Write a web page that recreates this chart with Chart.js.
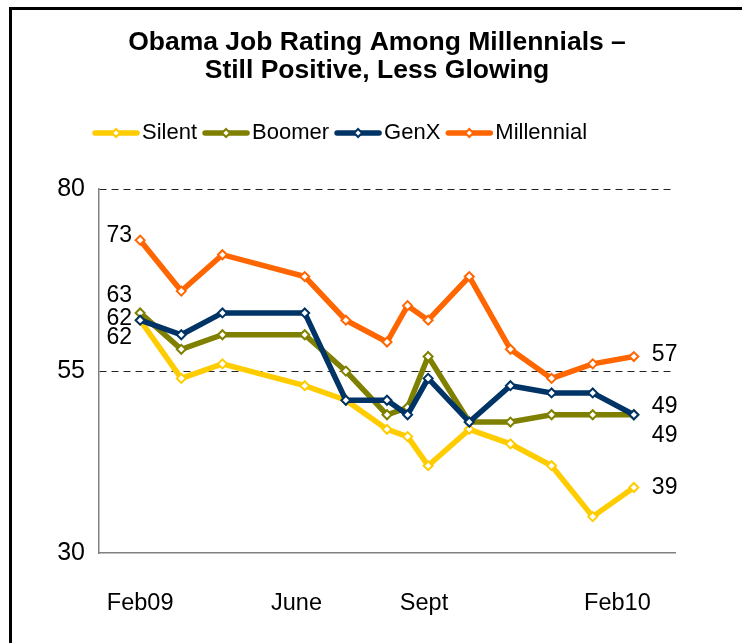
<!DOCTYPE html>
<html>
<head>
<meta charset="utf-8">
<script src="https://cdn.jsdelivr.net/npm/chart.js@4"></script>
<style>
  html, body { margin: 0; padding: 0; background: #fff; }
  #wrap { width: 742px; height: 643px; position: relative; }
</style>
</head>
<body>
<div id="wrap"><canvas id="chart" width="742" height="643"></canvas></div>
<script>
// months since Feb 2009
const months = [0, 1, 2, 4, 5, 6, 6.5, 7, 8, 9, 10, 11, 12];
const silent = [62, 54, 56, 53, 51, 47, 46, 42, 47, 45, 42, 35, 39];
const boomer = [63, 58, 60, 60, 55, 49, 50, 57, 48, 48, 49, 49, 49];
const genx = [62, 60, 63, 63, 51, 51, 49, 54, 48, 53, 52, 52, 49];
const millennial = [73, 66, 71, 68, 62, 59, 64, 62, 68, 58, 54, 56, 57];

const tickMonths = [0, 3.8, 6.9, 11.6];
const tickNames = ['Feb09', 'June', 'Sept', 'Feb10'];
const yTicks = [30, 55, 80];

const seriesNames = ['Silent', 'Boomer', 'GenX', 'Millennial'];
const seriesColors = ['#FFCC00', '#808000', '#003366', '#FF6600'];

const FONT = "'Liberation Sans', Arial, sans-serif";

function toPoints(vals) {
  return vals.map((v, i) => ({ x: months[i], y: v }));
}

// label offsets for the first / last value of each series
const leftDy = [17, -17, -2, -5];
const rightDy = [0, 21, -8, -2];

const framePlugin = {
  id: 'frame',
  beforeDraw(chart) {
    const ctx = chart.ctx;
    ctx.save();
    ctx.fillStyle = '#fff';
    ctx.fillRect(0, 0, chart.width, chart.height);
    ctx.fillStyle = '#000';
    ctx.fillRect(9, 7, 3, chart.height - 7);
    ctx.fillRect(9, 7, chart.width - 9, 3);
    ctx.restore();
  }
};

const legendPlugin = {
  id: 'customLegend',
  afterDraw(chart) {
    const ctx = chart.ctx;
    ctx.save();
    ctx.font = '22px ' + FONT;
    ctx.textBaseline = 'middle';
    let x = 93;
    const y = 133;
    chart.data.datasets.forEach((ds) => {
      ctx.strokeStyle = ds.borderColor;
      ctx.lineWidth = 5.5;
      ctx.lineCap = 'round';
      ctx.beginPath();
      ctx.moveTo(x + 2, y);
      ctx.lineTo(x + 44, y);
      ctx.stroke();
      // diamond marker
      ctx.lineWidth = 2;
      ctx.fillStyle = '#fff';
      ctx.beginPath();
      ctx.moveTo(x + 23, y - 4);
      ctx.lineTo(x + 27, y);
      ctx.lineTo(x + 23, y + 4);
      ctx.lineTo(x + 19, y);
      ctx.closePath();
      ctx.fill();
      ctx.stroke();
      ctx.fillStyle = '#000';
      ctx.fillText(ds.label, x + 49, y);
      x += 49 + ctx.measureText(ds.label).width + 6;
    });
    ctx.restore();
  }
};

const endLabelsPlugin = {
  id: 'endLabels',
  afterDatasetsDraw(chart) {
    const ctx = chart.ctx;
    ctx.save();
    ctx.font = '23px ' + FONT;
    ctx.fillStyle = '#000';
    ctx.textBaseline = 'middle';
    chart.data.datasets.forEach((ds, i) => {
      const meta = chart.getDatasetMeta(i);
      const first = meta.data[0];
      const last = meta.data[meta.data.length - 1];
      ctx.textAlign = 'right';
      ctx.fillText(String(ds.data[0].y), first.x - 8, first.y + leftDy[i]);
      ctx.textAlign = 'left';
      ctx.fillText(String(ds.data[ds.data.length - 1].y), last.x + 18, last.y + rightDy[i]);
    });
    ctx.restore();
  }
};

const allSeries = [silent, boomer, genx, millennial];

new Chart(document.getElementById('chart'), {
  type: 'line',
  data: {
    datasets: allSeries.map((vals, i) => ({
      label: seriesNames[i],
      data: toPoints(vals),
      borderColor: seriesColors[i],
      backgroundColor: '#fff',
      borderWidth: 5.5,
      tension: 0,
      pointStyle: 'rectRot',
      pointRadius: 4.5,
      pointBorderWidth: 2,
      pointBackgroundColor: '#fff',
      pointBorderColor: seriesColors[i],
      order: allSeries.length - i
    }))
  },
  options: {
    responsive: false,
    animation: false,
    events: [],
    layout: { padding: { left: 12, right: 0, top: 0, bottom: 0 } },
    plugins: {
      legend: { display: false },
      tooltip: { enabled: false },
      title: {
        display: true,
        text: ['Obama Job Rating Among Millennials \u2013', 'Still Positive, Less Glowing'],
        color: '#000',
        font: { family: FONT, size: 26.5, weight: 'bold', lineHeight: 1.08 },
        padding: { top: 28, bottom: 104 }
      }
    },
    scales: {
      x: {
        type: 'linear',
        min: -1,
        max: 13,
        grid: { display: false, drawTicks: false },
        border: { display: true, color: '#808080', width: 1.5 },
        afterBuildTicks(scale) {
          scale.ticks = tickMonths.map(v => ({ value: v }));
        },
        afterFit(scale) {
          scale.height = 90;
        },
        ticks: {
          autoSkip: false,
          maxRotation: 0,
          padding: 36,
          color: '#000',
          font: { family: FONT, size: 23.5 },
          callback(value) {
            const idx = tickMonths.indexOf(value);
            return idx >= 0 ? tickNames[idx] : '';
          }
        }
      },
      y: {
        min: 30,
        max: 80,
        afterBuildTicks(scale) {
          scale.ticks = yTicks.map(v => ({ value: v }));
        },
        afterFit(scale) {
          scale.width = 87;
        },
        grid: {
          drawTicks: false,
          lineWidth: 1,
          color(ctx) {
            return ctx.tick && ctx.tick.value === 30 ? 'rgba(0,0,0,0)' : '#222';
          }
        },
        border: { display: true, color: '#808080', width: 1.5, dash: [7, 5] },
        ticks: {
          padding: 14,
          color: '#000',
          font: { family: FONT, size: 25 }
        }
      },
      // empty right-hand axis that keeps the plot clear of the end labels
      yRight: {
        position: 'right',
        min: 30,
        max: 80,
        grid: { display: false, drawTicks: false },
        border: { display: false },
        ticks: { display: false },
        afterFit(scale) {
          scale.width = 67;
        }
      }
    }
  },
  plugins: [framePlugin, legendPlugin, endLabelsPlugin]
});
</script>
</body>
</html>
